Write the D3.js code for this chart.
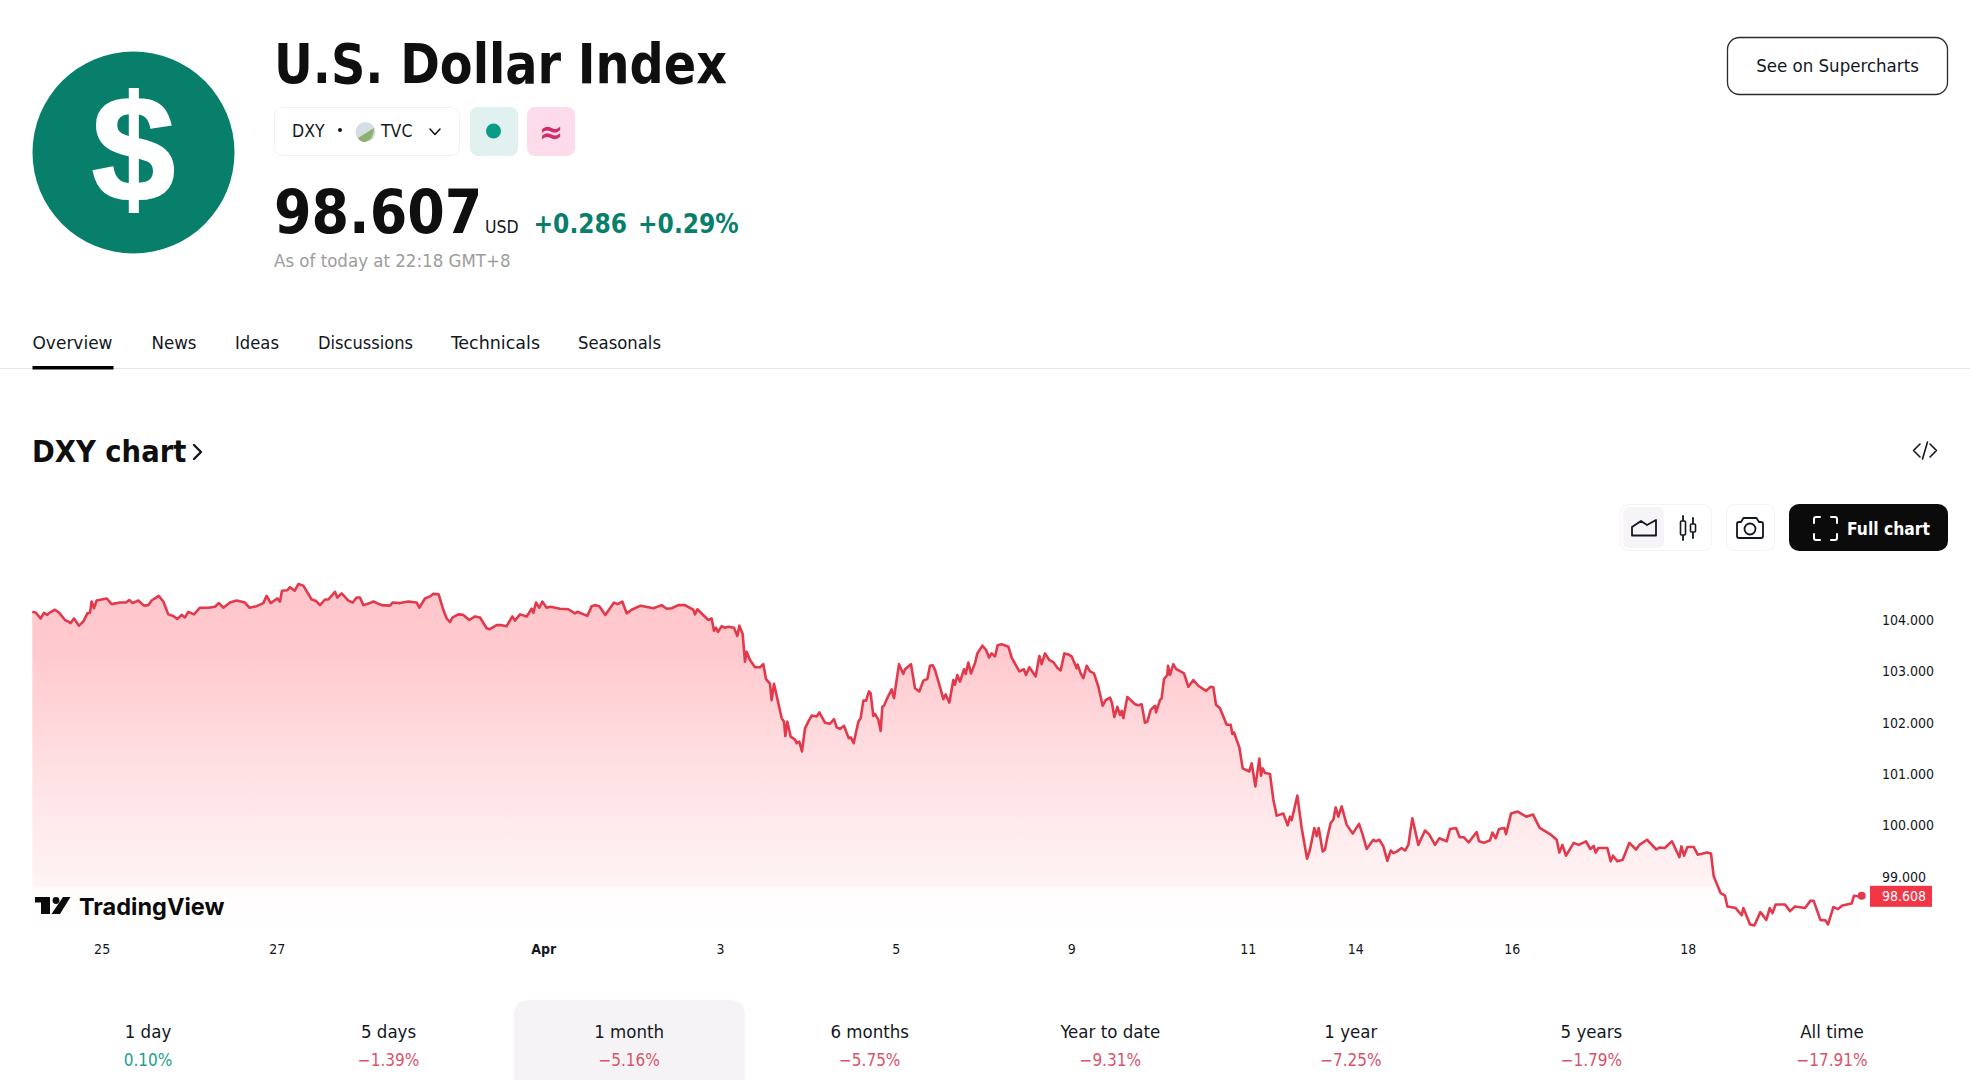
<!DOCTYPE html>
<html>
<head>
<meta charset="utf-8">
<title>DXY chart</title>
<script src="https://cdn.jsdelivr.net/npm/d3@7"></script>
<style>
  html, body { margin: 0; padding: 0; background: #fff; }
  svg { display: block; }
  text { font-family: "DejaVu Sans Condensed", "DejaVu Sans", sans-serif; fill: #131722; }
</style>
</head>
<body>
<svg id="page" width="1970" height="1080"></svg>
<script>
// time along the compressed session axis, 264 units = one trading day
const sessionTimes = [
  97,108,122,132,142,150,165,178,195,205,
  212,222,237,250,262,270,275,282,290,305,
  320,335,360,378,388,398,415,432,445,455,
  476,490,505,520,532,545,555,565,582,600,
  625,645,657,670,690,710,735,748,770,790,
  800,812,832,840,846,862,870,884,895,910,
  935,948,960,975,985,1005,1012,1025,1045,1058,
  1070,1080,1090,1110,1120,1145,1170,1178,1200,1225,
  1250,1258,1275,1290,1300,1316,1330,1340,1350,1358,
  1375,1390,1408,1425,1440,1460,1468,1490,1505,1520,
  1537,1545,1560,1580,1595,1600,1608,1618,1627,1640,
  1652,1680,1705,1725,1732,1762,1775,1785,1798,1816,
  1842,1852,1867,1880,1895,1922,1960,1985,2000,2015,
  2035,2055,2080,2085,2092,2125,2135,2142,2148,2154,
  2165,2175,2185,2202,2212,2218,2228,2235,2240,2250,
  2265,2280,2290,2298,2310,2315,2322,2345,2352,2356,
  2362,2372,2385,2390,2398,2406,2415,2425,2435,2450,
  2458,2475,2490,2502,2510,2520,2532,2546,2553,2561,
  2575,2582,2590,2598,2607,2612,2620,2625,2635,2642,
  2647,2652,2662,2675,2682,2697,2710,2715,2733,2745,
  2758,2770,2782,2790,2798,2805,2818,2830,2837,2848,
  2860,2865,2872,2880,2892,2897,2905,2913,2925,2932,
  2947,2958,2967,2975,2985,2993,3005,3025,3035,3058,
  3072,3078,3088,3107,3118,3125,3135,3148,3160,3173,
  3182,3193,3205,3215,3230,3233,3242,3250,3260,3270,
  3282,3295,3308,3317,3330,3336,3343,3352,3360,3365,
  3370,3382,3405,3415,3425,3428,3435,3442,3452,3465,
  3468,3480,3485,3492,3502,3504,3510,3520,3528,3552,
  3565,3580,3595,3618,3632,3640,3648,3660,3680,3692,
  3697,3702,3718,3728,3748,3755,3766,3778,3783,3788,
  3795,3810,3820,3830,3850,3863,3870,3875,3892,3905,
  3921,3930,3943,3950,3956,3968,3975,3982,3992,4000,
  4007,4015,4025,4040,4058,4077,4088,4100,4120,4128,
  4138,4150,4162,4172,4180,4190,4205,4215,4225,4237,
  4255,4275,4288,4305,4318,4340,4350,4368,4379,4391,
  4406,4430,4437,4452,4470,4477,4487,4497,4513,4518,
  4533,4553,4579,4599,4619,4650,4670,4678,4687,4698,
  4721,4736,4758,4771,4781,4787,4795,4822,4832,4839,
  4852,4868,4888,4908,4918,4941,4969,4979,4994,5016,
  5038,5044,5052,5062,5081,5093,5121,5133,5141,5162,
  5175,5182,5207,5225,5230,5250,5263,5281,5299,5309,
  5317,5327,5355,5370,5385,5415,5431,5441,5461,5476,
  5484,5500,5514,5527,5555,5562,5574,5585
];
const closes = [
  104.14,104.12,104.01,104.12,104.08,104.13,104.18,104.12,103.98,103.95,
  103.92,104.01,103.87,103.95,104.11,104.12,104.34,104.21,104.36,104.38,
  104.40,104.29,104.32,104.32,104.37,104.31,104.36,104.26,104.27,104.36,
  104.45,104.34,104.09,104.06,104.00,104.08,104.03,104.14,104.09,104.22,
  104.22,104.24,104.31,104.22,104.32,104.36,104.32,104.22,104.25,104.31,
  104.45,104.31,104.40,104.34,104.55,104.56,104.62,104.55,104.68,104.65,
  104.38,104.35,104.27,104.38,104.38,104.53,104.42,104.50,104.36,104.32,
  104.42,104.42,104.27,104.31,104.34,104.27,104.26,104.32,104.31,104.34,
  104.32,104.22,104.40,104.44,104.49,104.48,104.18,104.01,103.94,104.03,
  104.09,104.08,103.98,104.05,104.03,103.82,103.80,103.88,103.88,103.86,
  104.05,103.97,104.09,104.05,104.20,104.12,104.32,104.22,104.34,104.22,
  104.24,104.20,104.19,104.11,104.14,104.06,104.25,104.27,104.25,104.08,
  104.32,104.29,104.34,104.11,104.18,104.26,104.21,104.27,104.20,104.21,
  104.27,104.27,104.18,104.09,104.19,103.98,104.01,103.77,103.83,103.75,
  103.86,103.83,103.85,103.83,103.67,103.87,103.71,103.17,103.36,103.20,
  103.06,103.06,103.12,102.83,102.74,102.42,102.74,102.07,102.00,101.72,
  102.00,101.71,101.65,101.58,101.61,101.42,101.87,102.00,102.12,102.10,
  102.18,101.98,101.96,102.05,101.89,101.86,101.92,101.68,101.69,101.58,
  102.00,102.07,102.41,102.41,102.59,102.55,102.11,102.15,102.04,101.82,
  102.29,102.31,102.46,102.63,102.46,103.12,102.93,103.02,103.12,102.65,
  102.59,102.80,102.83,103.09,103.10,103.01,102.72,102.44,102.53,102.37,
  102.81,102.72,102.91,102.78,103.02,102.93,103.15,102.94,103.14,103.33,
  103.48,103.40,103.25,103.33,103.27,103.49,103.51,103.46,103.25,102.98,
  103.02,102.91,103.06,102.88,103.28,103.12,103.33,103.20,103.16,103.04,
  103.00,103.33,103.31,103.27,103.04,103.11,102.94,102.85,103.09,102.98,
  102.94,102.68,102.31,102.42,102.47,102.36,102.09,102.29,102.13,102.21,
  102.07,102.48,102.34,102.32,102.34,102.23,101.98,102.00,102.23,102.31,
  102.18,102.42,102.46,102.83,102.91,103.09,102.91,103.12,103.03,102.94,
  102.68,102.81,102.70,102.60,102.68,102.67,102.33,102.26,101.94,101.94,
  101.76,101.79,101.50,101.09,101.03,101.19,100.74,101.28,100.95,101.09,
  101.00,100.98,100.48,100.17,100.21,99.98,100.15,100.08,100.56,99.93,
  99.33,99.51,99.93,99.77,99.93,99.47,99.51,99.75,100.03,100.09,
  100.33,100.15,100.35,99.99,99.82,100.01,99.80,99.52,99.70,99.67,
  99.70,99.57,99.29,99.49,99.44,99.47,99.54,99.49,99.60,100.12,
  99.60,99.88,99.80,99.60,99.73,99.67,99.91,99.93,99.75,99.75,
  99.65,99.85,99.67,99.64,99.69,99.84,99.73,99.91,99.93,99.81,
  100.21,100.25,100.15,100.19,99.93,99.81,99.70,99.45,99.60,99.39,
  99.64,99.60,99.67,99.52,99.58,99.45,99.54,99.54,99.28,99.39,
  99.28,99.31,99.64,99.51,99.60,99.70,99.51,99.55,99.54,99.67,
  99.36,99.57,99.39,99.56,99.56,99.41,99.45,99.43,98.99,98.66,
  98.61,98.40,98.37,98.23,98.37,98.05,98.03,98.29,98.14,98.37,
  98.27,98.44,98.44,98.31,98.40,98.37,98.51,98.51,98.14,98.13,
  98.05,98.39,98.35,98.42,98.46,98.61,98.60,98.608
];
const priceTicks = [99, 100, 101, 102, 103, 104];
const dateTickTimes = [305, 830, 1630, 2160, 2687, 3214, 3743, 4066, 4535, 5063];
const dateTickLabels = ["25", "27", "Apr", "3", "5", "9", "11", "14", "16", "18"];
const tabLabels = ["Overview", "News", "Ideas", "Discussions", "Technicals", "Seasonals"];
const periodLabels = ["1 day", "5 days", "1 month", "6 months", "Year to date", "1 year", "5 years", "All time"];
const periodChanges = [0.10, -1.39, -5.16, -5.75, -9.31, -7.25, -1.79, -17.91];
const lastPrice = 98.608;

const RED = "#e23a4c";
const GREEN = "#087f6b";
const INK = "#0f0f0f";

const svg = d3.select("#page");

function addText(str, x, y, size, opts = {}) {
  const t = svg.append("text")
    .attr("x", x)
    .attr("y", y)
    .attr("font-size", size)
    .attr("font-weight", opts.weight || 400)
    .attr("text-anchor", opts.anchor || "start")
    .style("fill", opts.fill || "#131722")
    .style("font-family", opts.font || null)
    .text(str);
  // a few labels are pinned to the width they have in the page
  if (opts.width) t.attr("textLength", opts.width).attr("lengthAdjust", "spacingAndGlyphs");
  return t;
}

function addBox(x, y, w, h, r, fill, stroke) {
  return svg.append("rect")
    .attr("x", x).attr("y", y).attr("width", w).attr("height", h).attr("rx", r)
    .attr("fill", fill)
    .attr("stroke", stroke || "none");
}

function addIcon(d, sw) {
  return svg.append("path")
    .attr("d", d)
    .attr("fill", "none")
    .attr("stroke", "#131722")
    .attr("stroke-width", sw || 1.8)
    .attr("stroke-linejoin", "round")
    .attr("stroke-linecap", "round");
}

drawHeader();
drawTabs();
drawToolbar();
drawChart();
drawPeriods();

function drawHeader() {
  svg.append("circle").attr("cx", 133.5).attr("cy", 152.5).attr("r", 101).attr("fill", GREEN);
  addText("$", 133.5, 201, 150, { weight: 700, anchor: "middle", fill: "#fff", font: "'Liberation Sans'" })
    .style("stroke", "#fff").style("stroke-width", 2);

  addText("U.S. Dollar Index", 274, 83, 56, { weight: 700, fill: INK, width: 453 });

  addBox(274.5, 107.5, 185, 48, 8, "#fff", "#f2f2f4");
  addText("DXY", 292, 137, 17.5);
  svg.append("circle").attr("cx", 340).attr("cy", 130).attr("r", 2).attr("fill", "#131722");
  svg.append("circle").attr("cx", 365.5).attr("cy", 132).attr("r", 10).attr("fill", "#d5dde6");
  svg.append("path").attr("d", "M358 138 Q366 133 374 128 Q374 140 365 142 Q360 142 358 138Z").attr("fill", "#8cb36a");
  addText("TVC", 381, 137, 17.5);
  addIcon("M430 129 L435 134.5 L440 129", 1.6);

  addBox(470, 107, 48, 49, 8, "#e0f1ef");
  svg.append("circle").attr("cx", 493.5).attr("cy", 131).attr("r", 7.5).attr("fill", "#0b9c88");
  addBox(527, 107, 48, 49, 8, "#fcdcea");
  addText("≈", 551, 143, 32, { weight: 700, anchor: "middle", fill: "#cc2f6a" });

  addText("98.607", 274, 233, 60, { weight: 700, fill: INK });
  addText("USD", 485, 233, 17.5);
  addText("+0.286", 533.5, 233, 26, { weight: 700, fill: GREEN });
  addText("+0.29%", 638, 233, 26, { weight: 700, fill: GREEN });
  addText("As of today at 22:18 GMT+8", 274, 267, 18.5, { fill: "#9c9c9c" });

  addBox(1727.5, 37.5, 220, 57, 12, "#fff", "#2a2a2a").attr("stroke-width", 1.3);
  addText("See on Supercharts", 1837.5, 72, 18.5, { anchor: "middle" });
}

function drawTabs() {
  const tabX = [32.5, 151.5, 235, 318, 451, 578];
  const tabWidths = [80, 45, 44, 95, 89, 83];
  tabLabels.forEach((d, i) => addText(d, tabX[i], 349, 18, { width: tabWidths[i] }));
  svg.append("line").attr("x1", 0).attr("x2", 1970).attr("y1", 368.5).attr("y2", 368.5).attr("stroke", "#e6e6e6");
  svg.append("rect").attr("x", 32.5).attr("y", 366).attr("width", 81).attr("height", 3.5).attr("fill", "#000");

  addText("DXY chart", 32, 462, 30.5, { weight: 700, fill: INK });
  addIcon("M194 445 L201 452 L194 459", 2.4);
  addIcon("M1920 444 L1913.5 450.5 L1920 457 M1930 444 L1936.5 450.5 L1930 457 M1927.5 442 L1922.5 459", 1.6);
}

function drawToolbar() {
  addBox(1620.5, 504.5, 91, 46, 8, "#fff", "#f3f3f3");
  addBox(1623, 507, 41, 41, 6, "#f6f4f7");
  addIcon("M1632 535.5 L1632 527 L1641 521 L1647 525 L1656 520 L1656 535.5 Z");
  addIcon("M1683 516 L1683 540 M1693 518 L1693 538");
  svg.append("rect").attr("x", 1680.5).attr("y", 521).attr("width", 5).attr("height", 14).attr("rx", 1).attr("fill", "#fff").attr("stroke", "#131722").attr("stroke-width", 1.6);
  svg.append("rect").attr("x", 1690.5).attr("y", 524).attr("width", 5).attr("height", 8).attr("rx", 1).attr("fill", "#fff").attr("stroke", "#131722").attr("stroke-width", 1.6);

  addBox(1726.5, 504.5, 48, 46, 8, "#fff", "#f3f3f3");
  addIcon("M1741 522 L1743.5 518 L1756.5 518 L1759 522 L1761 522 Q1763 522 1763 524 L1763 536 Q1763 538 1761 538 L1739 538 Q1737 538 1737 536 L1737 524 Q1737 522 1739 522 Z");
  svg.append("circle").attr("cx", 1750).attr("cy", 529).attr("r", 5.5).attr("fill", "none").attr("stroke", "#131722").attr("stroke-width", 1.8);

  addBox(1789, 504, 159, 47, 10, "#0b0b0b");
  addIcon("M1820 517 L1816 517 Q1814 517 1814 519 L1814 523 M1831 517 L1835 517 Q1837 517 1837 519 L1837 523 M1814 534 L1814 538 Q1814 540 1816 540 L1820 540 M1837 534 L1837 538 Q1837 540 1835 540 L1831 540", 2).attr("stroke", "#fff");
  addText("Full chart", 1847, 535, 18.5, { weight: 700, fill: "#fff", width: 83 });
}

function drawChart() {
  const x = d3.scaleLinear().domain([97, 5585]).range([32.3, 1861.7]);
  const y = d3.scaleLinear().domain([99, 104]).range([875.7, 619]);
  const points = d3.zip(sessionTimes, closes);
  const plotBottom = 940;

  const defs = svg.append("defs");
  const grad = defs.append("linearGradient")
    .attr("id", "areaFill")
    .attr("gradientUnits", "userSpaceOnUse")
    .attr("x1", 0).attr("x2", 0).attr("y1", y(d3.max(closes))).attr("y2", plotBottom);
  const stops = [[0, "#ffc6cb"], [0.2, "#ffcacf"], [0.5, "#ffdfe2"], [0.85, "#fff4f5"], [0.855, "#fffcfc"], [1, "#ffffff"]];
  grad.selectAll("stop").data(stops).join("stop")
    .attr("offset", d => d[0])
    .attr("stop-color", d => d[1]);

  svg.append("path")
    .datum(points)
    .attr("fill", "url(#areaFill)")
    .attr("d", d3.area().x(d => x(d[0])).y0(plotBottom).y1(d => y(d[1])));

  svg.append("path")
    .datum(points)
    .attr("fill", "none")
    .attr("stroke", RED)
    .attr("stroke-width", 2.6)
    .attr("stroke-linejoin", "round")
    .attr("d", d3.line().x(d => x(d[0])).y(d => y(d[1])));

  svg.append("circle")
    .attr("cx", x(sessionTimes[sessionTimes.length - 1]))
    .attr("cy", y(lastPrice))
    .attr("r", 4)
    .attr("fill", RED);

  // axes
  const yAxis = svg.append("g")
    .attr("transform", "translate(1882,1)")
    .call(d3.axisRight(y).tickValues(priceTicks).tickSize(0).tickPadding(0).tickFormat(d3.format(".3f")));
  yAxis.select(".domain").remove();
  yAxis.selectAll("text").attr("font-size", 14).attr("font-family", null);

  const xAxis = svg.append("g")
    .attr("transform", "translate(0,944)")
    .call(d3.axisBottom(x).tickValues(dateTickTimes).tickSize(0).tickPadding(0)
      .tickFormat((d, i) => dateTickLabels[i]));
  xAxis.select(".domain").remove();
  xAxis.selectAll("text").attr("font-size", 14).attr("font-family", null)
    .attr("font-weight", (d, i) => dateTickLabels[i] === "Apr" ? 700 : 400);

  // last price tag
  svg.append("rect").attr("x", 1870).attr("y", y(lastPrice) - 10).attr("width", 62).attr("height", 21).attr("fill", "#f23645");
  addText(d3.format(".3f")(lastPrice), 1882, y(lastPrice) + 5.5, 14, { fill: "#fff" });

  // TradingView logo
  svg.append("path").attr("d", "M35 897 L50 897 L50 914 L41 914 L41 902.5 L35 902.5 Z").attr("fill", "#0b0b0b");
  svg.append("circle").attr("cx", 56).attr("cy", 900.5).attr("r", 3.4).attr("fill", "#0b0b0b");
  svg.append("path").attr("d", "M63 897 L70.5 897 L60 914 L51.5 914 Z").attr("fill", "#0b0b0b");
  addText("TradingView", 79, 915, 23.5, { weight: 700, fill: "#0b0b0b", font: "Inter" });
}

function drawPeriods() {
  const px = d3.scalePoint().domain(periodLabels).range([148, 1832]);

  svg.append("path")
    .attr("d", "M514 1090 L514 1015 Q514 1000 530 1000 L729 1000 Q745 1000 745 1015 L745 1090 Z")
    .attr("fill", "#f6f3f6");

  const fmt = d => (d < 0 ? "−" : "") + Math.abs(d).toFixed(2) + "%";
  periodLabels.forEach((d, i) => {
    addText(d, px(d), 1038, 18.5, { anchor: "middle" });
    addText(fmt(periodChanges[i]), px(d), 1066, 17, {
      anchor: "middle",
      fill: periodChanges[i] < 0 ? "#d9536a" : "#22a08c"
    });
  });
}
</script>
</body>
</html>
